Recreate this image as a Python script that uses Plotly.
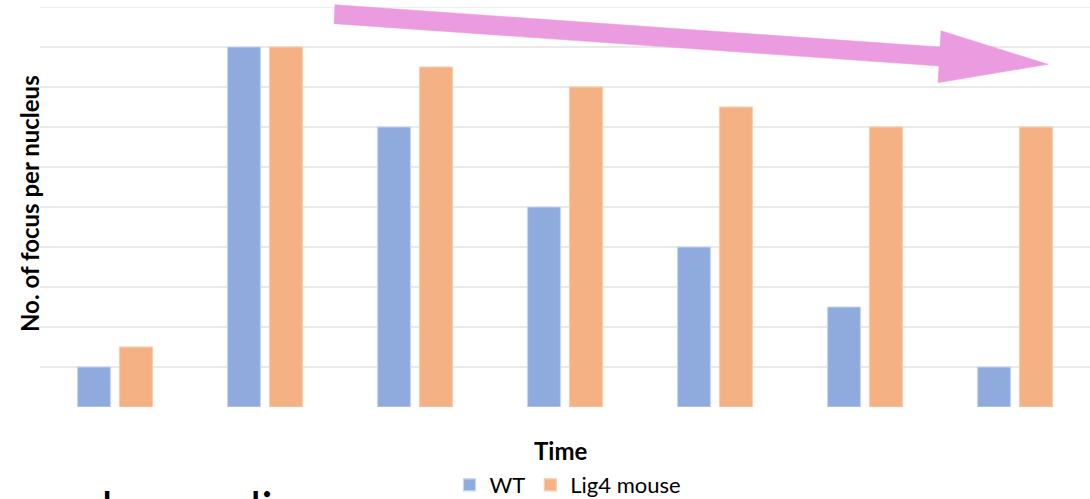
import plotly.graph_objects as go

# ---- data ----
time_points = ["T1", "T2", "T3", "T4", "T5", "T6", "T7"]
wt_values = [1, 9, 7, 5, 4, 2.5, 1]
lig4_values = [1.5, 9, 8.5, 8, 7.5, 7, 7]
series_names = ["WT", "Lig4 mouse"]

W, H = 1090, 499
ML, MR, MT, MB = 40, 0, 7, 92
PW, PH = W - ML - MR, H - MT - MB

def px(x):
    return (x - ML) / PW

def py(y):
    return (H - MB - y) / PH

fig = go.Figure()
fig.add_trace(go.Bar(x=time_points, y=wt_values, name=series_names[0],
                     marker=dict(color="#8FAADC", line=dict(color="#C9D6EF", width=1.2))))
fig.add_trace(go.Bar(x=time_points, y=lig4_values, name=series_names[1],
                     marker=dict(color="#F4B183", line=dict(color="#F8CDAE", width=1.2))))

# pink arrow (decoration)
pts = [(335, 4.7), (940, 47), (941, 30.7), (1048, 64.3), (938, 82.7), (939, 66), (334, 23.7)]
path = "M " + " L ".join(f"{px(x):.5f},{py(y):.5f}" for x, y in pts) + " Z"
fig.add_shape(type="path", xref="paper", yref="paper", path=path,
              fillcolor="#EB9CE0", line=dict(color="#EB9CE0", width=0.5), layer="above")

# top grid line at the range edge
fig.add_shape(type="line", xref="paper", yref="y", x0=0, x1=1, y0=10, y1=10,
              line=dict(color="#EAEAEA", width=1.5), layer="below")

# cut-off slide text at bottom
fig.add_annotation(text="and some lines", xref="paper", yref="paper",
                   x=px(33), y=py(478), xanchor="left", yanchor="top",
                   showarrow=False, font=dict(size=48, color="black", family="Lato"))

fig.add_annotation(text="<b>Time</b>", xref="paper", yref="paper",
                   x=px(560), y=py(450), xanchor="center", yanchor="middle",
                   showarrow=False, font=dict(size=24, color="black", family="Lato"))

fig.add_annotation(text="<b>No. of focus per nucleus</b>", xref="paper", yref="paper",
                   x=px(29), y=py(204), xanchor="center", yanchor="middle", textangle=-90,
                   showarrow=False, font=dict(size=24, color="black", family="Lato"))

fig.update_layout(
    width=W, height=H,
    margin=dict(l=ML, r=MR, t=MT, b=MB, autoexpand=False),
    plot_bgcolor="white", paper_bgcolor="white",
    barmode="group", bargap=0.44, bargroupgap=0.214,
    font=dict(family="Lato", color="black"),
    showlegend=True,
    legend=dict(orientation="h", x=px(568), y=py(485), xanchor="center", yanchor="middle",
                font=dict(size=22, color="black"), traceorder="normal",
                bgcolor="rgba(0,0,0,0)"),
    xaxis=dict(showticklabels=False, showgrid=False, showline=False, zeroline=False, ticks=""),
    yaxis=dict(range=[0, 10], dtick=1, showticklabels=False, showgrid=True,
               gridcolor="#EAEAEA", gridwidth=1.5, zeroline=False, showline=False, ticks=""),
)

fig.write_html("out.html")
